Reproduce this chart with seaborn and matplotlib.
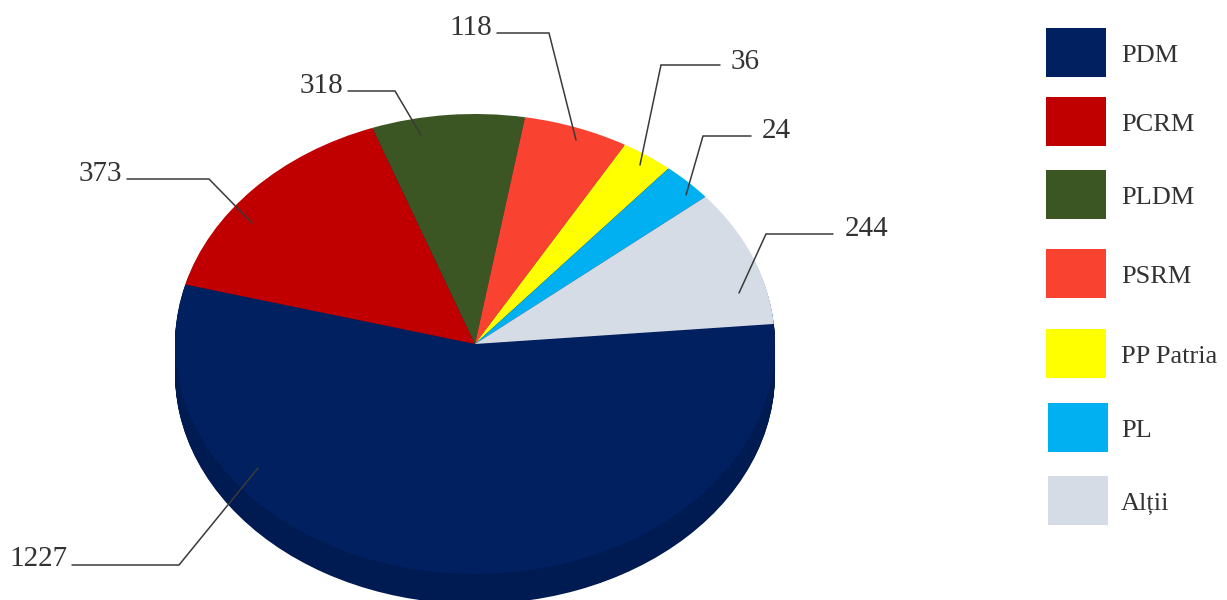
import matplotlib.pyplot as plt
from matplotlib.patches import Rectangle
import numpy as np
import seaborn as sns

sns.set_theme(style="white")
plt.rcParams['font.family'] = ['Liberation Serif', 'DejaVu Serif']

# Legend and printed values
partide = ['PDM', 'PCRM', 'PLDM', 'PSRM', 'PP Patria', 'PL', 'Alții']
valori = [1227, 373, 318, 118, 36, 24, 244]

# Slice sizes as drawn (degrees, they do not follow the printed values)
felii = [200, 55, 29.6, 20.4, 10.2, 10, 34.8]

culori = sns.color_palette(['#002060', '#C00000', '#3B5623', '#F94230', '#FFFF00', '#00B0F0', '#D6DCE5'])
culoare_lateral = '#001A52'
culoare_text = '#333333'

W, H = 1227, 600
fig = plt.figure(figsize=(W / 100, H / 100), dpi=100)


def px_axes(x0, y0, x1, y1):
    # axes placed by pixel box, y going down
    return fig.add_axes([x0 / W, 1 - y1 / H, (x1 - x0) / W, (y1 - y0) / H])


# ------------------------------
# Pie (flattened to look tilted)
# ------------------------------
ax = px_axes(175, 114, 775, 574)
grosime = 30 / 230
fara_contur = {'linewidth': 0, 'edgecolor': 'none'}
for dy in np.linspace(grosime, 0.005, 40):
    ax.pie(felii, colors=[culoare_lateral] * len(felii), startangle=5, counterclock=False,
           center=(0, -dy), radius=1, wedgeprops=fara_contur)
ax.pie(felii, colors=culori, startangle=5, counterclock=False, radius=1, wedgeprops=fara_contur)
ax.set_aspect('auto')
ax.set_xlim(-1, 1)
ax.set_ylim(-1, 1)
for p in ax.patches:
    p.set_clip_on(False)

# ------------------------------
# Overlay in pixels: leaders, values, legend
# ------------------------------
over = px_axes(0, 0, W, H)
over.set_xlim(0, W)
over.set_ylim(H, 0)
over.axis('off')
over.patch.set_alpha(0)

linii_x = [[72, 179, 258], [127, 209, 252], [348, 395, 421], [497, 549, 576],
           [720, 661, 640], [751, 703, 686], [833, 766, 739]]
linii_y = [[565, 565, 468], [179, 179, 223], [91, 91, 135], [33, 33, 140],
           [65, 65, 165], [136, 136, 195], [234, 234, 293]]
text_x = [68, 122, 343, 492, 731, 762, 845]
text_y = [559, 174, 86, 28, 62, 131, 229]
text_ha = ['right', 'right', 'right', 'right', 'left', 'left', 'left']

for v, lx, ly, tx, ty, ha in zip(valori, linii_x, linii_y, text_x, text_y, text_ha):
    over.plot(lx, ly, color='#3A3A3A', lw=1.1, solid_joinstyle='miter')
    over.text(tx, ty, str(v), ha=ha, va='center', fontsize=21, color=culoare_text)

leg_x = [1046, 1046, 1046, 1046, 1046, 1048, 1048]
leg_y = [28, 97, 170, 249, 329, 403, 476]
for nume, c, lx, ly in zip(partide, culori, leg_x, leg_y):
    over.add_patch(Rectangle((lx, ly), 60, 49, facecolor=c, edgecolor='none'))
    over.text(1121, ly + 28, nume, ha='left', va='center', fontsize=19, color=culoare_text)

plt.savefig('out.png', dpi=100)
